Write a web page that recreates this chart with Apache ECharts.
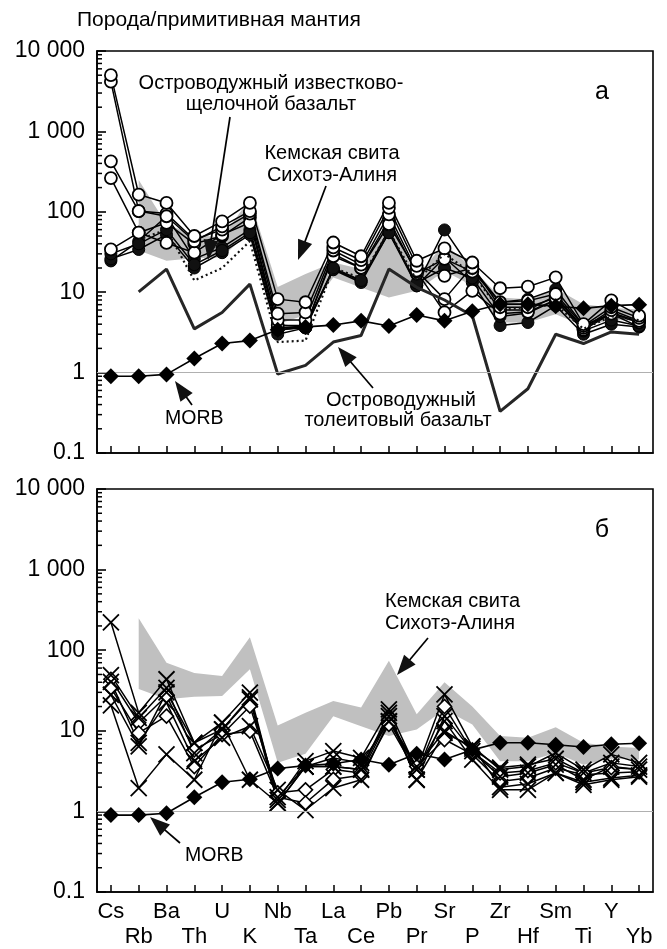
<!DOCTYPE html>
<html><head><meta charset="utf-8">
<script src="https://cdn.jsdelivr.net/npm/echarts@6/dist/echarts.min.js"></script>
<style>html,body{margin:0;padding:0;background:#fff}#c{width:667px;height:949px}</style>
</head><body><div id="c"></div>
<script>
const categories = ['Cs','Rb','Ba','Th','U','K','Nb','Ta','La','Ce','Pb','Pr','Sr','P','Zr','Hf','Sm','Ti','Y','Yb'];
const yTickLabels = ['0.1','1','10','100','1 000','10 000'];
const minorTickValues = [0.2,0.3,0.4,0.5,0.6,0.7,0.8,0.9,2,3,4,5,6,7,8,9,20,30,40,50,60,70,80,90,200,300,400,500,600,700,800,900,2000,3000,4000,5000,6000,7000,8000,9000];

// Кемская свита Сихотэ-Алиня (field)
const bandHigh = [null,249,70,52,48,145,11.6,16.8,23.4,19.4,74,16,40,20,8.6,8.2,11.1,7.1,6.4,6.1];
const bandLow  = [null,33,24.6,26.5,27,58,4.0,5.2,15.2,11.4,8.6,10.4,18.4,12,4.2,4.2,5.3,3.8,4.5,4.4];

// MORB
const morb = [0.9,0.9,0.95,1.5,2.3,2.5,3.4,3.7,3.9,4.4,3.8,5.2,4.4,5.8,7.1,7.1,6.7,6.3,6.8,7.0];

// Panel а: island-arc basalts
const arcTholeiite = [null,10.1,19.4,3.5,5.6,12.6,0.96,1.23,2.4,2.9,19.4,11.5,8,5.1,0.33,0.63,3.0,2.3,3.2,3.0];
const arcCalcAlkaline = [null,45,60,14,20,43,2.4,2.5,20,15,58,14,30,17,6,6.5,7,3.5,5,4.5];

// Panel а samples (open circles)
const openA1 = [5000,164,129,50,76,129,8.2,7.5,41.5,28,129,24.6,35,23.4,11.2,11.7,15.3,4.0,7.9,5.1];
const openA2 = [4150,102,88,43,66,102,5.4,5.6,36,25,112,21.3,16,20,7.5,7.8,9.5,3.8,6.5,4.8];
const openA3 = [425,102,95,45,60,95,4.5,4.5,33,22,93,18.5,8.2,21,6.5,6.5,8.5,3.6,6,4.4];
const openA4 = [263,55,41,31,52,73,3.9,3.7,28,20,70,18,5.6,10.4,5.4,5.7,8,3.4,5.4,4.2];
const openA5 = [34,55,73,40,50,85,3.6,3.7,30,20,80,17,26,18,6,6,9,3.5,5.6,4.3];
// Panel а samples (filled circles)
const filledA1 = [24.5,43,88,26,36,60,3.85,3.85,19.4,13.9,60,12,59.5,18.5,7.5,8.2,10.9,3.85,5.4,3.7];
const filledA2 = [26,34,52,20,31,52,3.0,3.6,19,13.2,55,12,27,13.2,3.85,4.2,6.8,3.0,4.0,3.7];
const filledA3 = [30,40,60,22,33,55,3.4,3.6,20,14,55,13,20,15,5,5.5,8,3.3,4.5,3.8];

// Panel б samples (crosses)
const crossB1 = [222,16.7,43.6,7.1,12.6,29.8,1.39,4.2,5.6,4.6,18.4,3.3,28.3,6.4,3.3,3.6,5.3,3.3,5.1,4.0];
const crossB2 = [49,14.5,34,5.3,10.4,24.6,1.27,3.6,3.6,3.3,15.2,2.47,15.2,5.6,2.7,3.0,3.8,2.47,3.6,3.3];
const crossB3 = [40.5,7.1,22.4,4.2,8.2,11.4,1.85,1.04,1.95,2.47,13.2,3.3,13.2,4.4,1.85,1.85,3.0,2.14,2.47,2.7];
const crossB4 = [20.7,1.95,5.1,2.47,12.6,2.47,1.27,3.6,3.6,3.3,16.7,2.47,9.4,6.4,2.0,2.2,3.0,2.3,2.6,2.8];
const crossB5 = [28,6.4,30,7.1,10.4,26,1.5,3.6,4.6,4.0,13,3.6,10,6,3.5,3.8,4.5,3.0,4.0,3.6];
// Panel б samples (open diamonds)
const diamB1 = [43.6,12.6,27,5.8,9.0,20.2,1.7,1.85,3.3,3.0,14,3.6,7.8,5.1,2.35,2.6,3.45,2.85,3.0,3.1];
const diamB2 = [34,9.4,15.2,3.6,9.0,9.9,1.5,1.27,2.5,2.8,12,3.0,20,5.5,3.0,3.2,4.0,3.0,3.5,3.3];

const FONT = '"Liberation Sans", Arial, sans-serif';
const chart = echarts.init(document.getElementById('c'), null, {renderer:'canvas'});

function bandSeries(gi){
  return {type:'custom', xAxisIndex:gi, yAxisIndex:gi, z:1, silent:true, clip:false,
    data:[[0,1]],
    renderItem:function(params, api){
      if(params.dataIndex!==0) return;
      const pts=[];
      for(let i=0;i<categories.length;i++) if(bandHigh[i]!=null) pts.push(api.coord([i,bandHigh[i]]));
      for(let i=categories.length-1;i>=0;i--) if(bandLow[i]!=null) pts.push(api.coord([i,bandLow[i]]));
      return {type:'polygon', shape:{points:pts}, style:{fill:'#c0c0c0', stroke:null}};
    }};
}
function minorTickSeries(gi){
  return {type:'custom', xAxisIndex:gi, yAxisIndex:gi, z:10, silent:true, clip:false,
    data:minorTickValues.map(v=>[0,v]),
    renderItem:function(params, api){
      const y = api.coord([0, api.value(1)])[1];
      const x0 = params.coordSys.x;
      return {type:'line', shape:{x1:x0, y1:y, x2:x0+5, y2:y}, style:{stroke:'#000', lineWidth:1.5}};
    }};
}
function lineSeries(gi, data, opt){
  return Object.assign({type:'line', xAxisIndex:gi, yAxisIndex:gi, data:data, z:3,
    lineStyle:{color:'#000', width:1.5}, symbolSize:10, showSymbol:true}, opt);
}
const openCircle = {symbol:'circle', symbolSize:12, itemStyle:{color:'#fff', borderColor:'#000', borderWidth:1.8}};
const filledCircle = {symbol:'circle', symbolSize:12, itemStyle:{color:'#111', borderColor:'#000', borderWidth:1}};
const cross = {symbol:'path://M0,0L10,10M10,0L0,10', symbolSize:16, itemStyle:{color:'#000', borderColor:'#000', borderWidth:1.8}};
const openDiam = {symbol:'diamond', symbolSize:14, itemStyle:{color:'#fff', borderColor:'#000', borderWidth:1.6}};
const morbOpt = {symbol:'diamond', symbolSize:16, z:5, itemStyle:{color:'#000'}, lineStyle:{color:'#000', width:1.6}};
const oneLine = {silent:true, symbol:['none','none'], label:{show:false}, lineStyle:{color:'#b0b0b0', type:'solid', width:1.2}, data:[{yAxis:1}]};

function xAx(gi, showLabel){
  return {type:'category', gridIndex:gi, data:categories, boundaryGap:true,
    axisLine:{show:true, lineStyle:{color:'#000', width:1.6}},
    axisTick:{show:true, alignWithLabel:true, inside:true, length:7, lineStyle:{color:'#000', width:1.5}},
    splitLine:{show:false},
    axisLabel:{show:showLabel, interval:0, color:'#000', fontFamily:FONT, fontSize:22, lineHeight:25, margin:7,
      formatter:function(v, idx){ return idx%2 ? '\n'+v : v; }}};
}
function yAx(gi){
  return {type:'log', logBase:10, gridIndex:gi, min:0.1, max:10000,
    axisLine:{show:true, lineStyle:{color:'#000', width:1.6}},
    axisTick:{show:true, inside:true, length:9, lineStyle:{color:'#000', width:1.6}},
    splitLine:{show:false},
    axisLabel:{color:'#000', fontFamily:FONT, fontSize:23, margin:12,
      formatter:function(v){ const k=Math.round(Math.log10(v))+1; return yTickLabels[k]; }}};
}

function arrow(x1,y1,x2,y2){
  const dx=x2-x1, dy=y2-y1, L=Math.sqrt(dx*dx+dy*dy), ux=dx/L, uy=dy/L;
  const hl=20, hw=7.5;
  const bx=x2-ux*hl, by=y2-uy*hl;
  return [
    {type:'line', shape:{x1:x1,y1:y1,x2:bx+ux*2,y2:by+uy*2}, style:{stroke:'#000', lineWidth:1.7}, z:20},
    {type:'polygon', shape:{points:[[x2,y2],[bx-uy*hw,by+ux*hw],[bx+uy*hw,by-ux*hw]]}, style:{fill:'#111'}, z:20}
  ];
}
function txt(x,y,text,size,align){
  return {type:'text', x:x, y:y, z:20, style:{text:text, font:size+'px '+FONT, fill:'#000', align:align||'left', verticalAlign:'middle'}};
}

const graphics = [].concat(
  txt(77,20,'Порода/примитивная мантия',21),
  txt(271,83,'Островодужный известково-',20,'center'),
  txt(271,104,'щелочной базальт',20,'center'),
  arrow(230,117,208,260),
  txt(332,153,'Кемская свита',20,'center'),
  txt(332,175,'Сихотэ-Алиня',20,'center'),
  arrow(326,186,298,260),
  txt(602,92,'а',25,'center'),
  txt(165,419,'MORB',19.5),
  arrow(192,405,175,381),
  txt(401,400,'Островодужный',20,'center'),
  txt(398,420,'толеитовый базальт',20,'center'),
  arrow(373,388,338,347),
  txt(602,530,'б',25,'center'),
  txt(385,601,'Кемская свита',20),
  txt(385,623,'Сихотэ-Алиня',20),
  arrow(428,638,397,675),
  txt(185,856,'MORB',19.5),
  arrow(180,843,150,817)
);

const option = {
  animation:false,
  backgroundColor:'#fff',
  grid:[
    {left:97, top:51, width:556, height:402, show:true, borderColor:'#000', borderWidth:1.6, backgroundColor:'transparent'},
    {left:97, top:489, width:556, height:403, show:true, borderColor:'#000', borderWidth:1.6, backgroundColor:'transparent'}
  ],
  xAxis:[xAx(0,false), xAx(1,true)],
  yAxis:[yAx(0), yAx(1)],
  graphic: graphics,
  series:[
    bandSeries(0), minorTickSeries(0),
    lineSeries(0, morb, Object.assign({markLine:oneLine}, morbOpt)),
    lineSeries(0, arcTholeiite, {symbol:'none', z:4, lineStyle:{color:'#262626', width:3}}),
    lineSeries(0, arcCalcAlkaline, {symbol:'none', z:4, lineStyle:{color:'#111', width:2.2, type:[2,3]}}),
    lineSeries(0, filledA1, filledCircle),
    lineSeries(0, filledA2, filledCircle),
    lineSeries(0, filledA3, filledCircle),
    lineSeries(0, openA5, openCircle),
    lineSeries(0, openA4, openCircle),
    lineSeries(0, openA3, openCircle),
    lineSeries(0, openA2, openCircle),
    lineSeries(0, openA1, openCircle),
    bandSeries(1), minorTickSeries(1),
    lineSeries(1, morb, Object.assign({markLine:oneLine}, morbOpt)),
    lineSeries(1, diamB1, openDiam),
    lineSeries(1, diamB2, openDiam),
    lineSeries(1, crossB1, cross),
    lineSeries(1, crossB2, cross),
    lineSeries(1, crossB3, cross),
    lineSeries(1, crossB4, cross),
    lineSeries(1, crossB5, cross)
  ]
};
chart.setOption(option);
</script></body></html>
